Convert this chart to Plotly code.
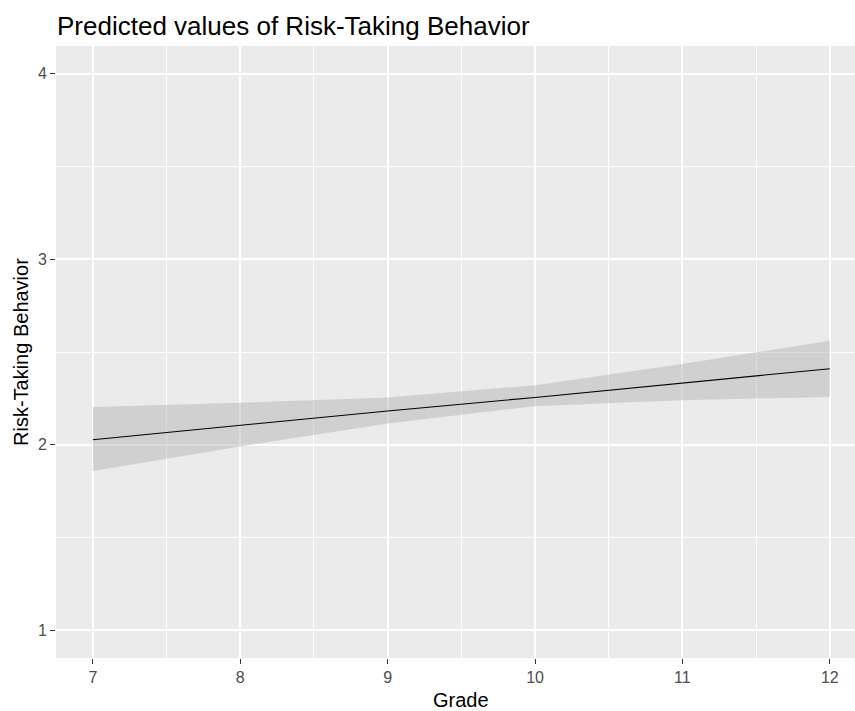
import plotly.graph_objects as go

grade = [7, 8, 9, 10, 11, 12]
predicted = [2.027, 2.105, 2.182, 2.255, 2.332, 2.410]
conf_high = [2.204, 2.226, 2.255, 2.321, 2.435, 2.561]
conf_low = [1.859, 1.991, 2.114, 2.208, 2.240, 2.258]

x_ticks = [7, 8, 9, 10, 11, 12]
y_ticks = [1, 2, 3, 4]

W, H = 855, 711
ML, MR, MT, MB = 56, 0, 46, 53
PW, PH = W - ML - MR, H - MT - MB

fig = go.Figure()
fig.add_trace(go.Scatter(
    x=grade + grade[::-1], y=conf_high + conf_low[::-1],
    fill="toself", fillcolor="rgba(175,175,175,0.45)",
    line=dict(width=0), mode="lines", hoverinfo="skip", showlegend=False))
fig.add_trace(go.Scatter(
    x=grade, y=predicted, mode="lines",
    line=dict(color="black", width=1.1), showlegend=False))

FONT = "Liberation Sans, Arial, sans-serif"
tickfont = dict(family=FONT, size=16, color="#4D4D4D")
fig.update_layout(
    width=W, height=H,
    margin=dict(l=ML, r=MR, t=MT, b=MB, pad=0),
    paper_bgcolor="white", plot_bgcolor="#EBEBEB",
    font=dict(family=FONT),
    title=dict(text="Predicted values of Risk-Taking Behavior",
               font=dict(size=26, color="black"),
               xref="container", x=57 / W, xanchor="left",
               yref="container", y=1 - 26 / H, yanchor="middle"),
    xaxis=dict(range=[6.75, 12.171], tickvals=x_ticks, ticktext=[str(v) for v in x_ticks],
               showgrid=True, gridcolor="white", gridwidth=1.5,
               ticks="outside", ticklen=5, tickcolor="#333333", tickwidth=1,
               tickfont=tickfont, zeroline=False, showline=False,
               minor=dict(tickvals=[7.5, 8.5, 9.5, 10.5, 11.5], showgrid=True,
                          gridcolor="white", gridwidth=0.8, ticks="")),
    yaxis=dict(range=[0.85, 4.15], tickvals=y_ticks, ticktext=[str(v) for v in y_ticks],
               showgrid=True, gridcolor="white", gridwidth=1.5,
               ticks="outside", ticklen=5, tickcolor="#333333", tickwidth=1,
               tickfont=tickfont, zeroline=False, showline=False,
               minor=dict(tickvals=[1.5, 2.5, 3.5], showgrid=True,
                          gridcolor="white", gridwidth=0.8, ticks="")),
    annotations=[
        dict(text="Grade", xref="paper", yref="paper",
             x=(461 - ML) / PW, y=-(700 - (H - MB)) / PH,
             xanchor="center", yanchor="middle", showarrow=False,
             font=dict(size=20, color="black")),
        dict(text="Risk-Taking Behavior", xref="paper", yref="paper",
             x=(21 - ML) / PW, y=0.5, textangle=-90,
             xanchor="center", yanchor="middle", showarrow=False,
             font=dict(size=20, color="black")),
    ],
)

fig.write_html(
    "out.html",
    config={"displayModeBar": False},
    post_script="document.body.style.margin='0';"
                "document.body.style.overflow='hidden';"
                "document.documentElement.style.overflow='hidden';",
)
